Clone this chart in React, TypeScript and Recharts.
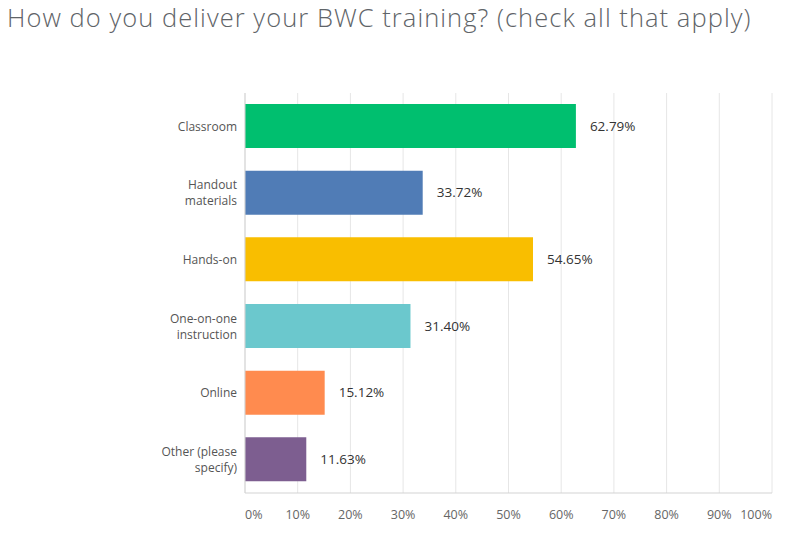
import { BarChart, Bar, XAxis, YAxis, CartesianGrid, Cell, LabelList } from "recharts";

const categories = [
  "Classroom",
  "Handout\nmaterials",
  "Hands-on",
  "One-on-one\ninstruction",
  "Online",
  "Other (please\nspecify)",
];
const shares = [62.79, 33.72, 54.65, 31.4, 15.12, 11.63];
const barColors = ["#00BF6F", "#507CB6", "#F9BE00", "#6BC8CD", "#FF8B4F", "#7D5E90"];
const percentTicks = [0, 10, 20, 30, 40, 50, 60, 70, 80, 90, 100];

const data = categories.map((name, i) => ({ name, value: shares[i] }));

const FONT = "'Open Sans', sans-serif";

// multi-line category names, right aligned against the axis
const CategoryTick = (props: any) => {
  const { x, y, payload } = props;
  const lines: string[] = String(payload.value).split("\n");
  const lh = 16;
  const startY = y - ((lines.length - 1) * lh) / 2;
  return (
    <g>
      {lines.map((l, i) => (
        <text
          key={i}
          x={x + 4}
          y={startY + i * lh}
          dy="0.35em"
          textAnchor="end"
          fontFamily={FONT}
          fontSize={12}
          fill="#555"
        >
          {l}
        </text>
      ))}
    </g>
  );
};

// first and last labels are kept inside the plot edges
const PercentTick = (props: any) => {
  const { x, y, payload } = props;
  const v = payload.value;
  const anchor = v === 0 ? "start" : v === 100 ? "end" : "middle";
  return (
    <text x={x} y={y} dy="0.35em" textAnchor={anchor} fontFamily={FONT} fontSize={12.5} fill="#666">
      {`${v}%`}
    </text>
  );
};

const ValueLabel = (props: any) => {
  const { x, y, width, height, value } = props;
  return (
    <text
      x={x + width + 14}
      y={y + height / 2}
      dy="0.35em"
      fontFamily={FONT}
      fontSize={13.5}
      fill="#333"
    >
      {`${Number(value).toFixed(2)}%`}
    </text>
  );
};

export default function App() {
  return (
    <div style={{ position: "absolute", left: 0, top: 0, width: 800, height: 550, background: "#fff" }}>
      <div
        style={{
          position: "absolute",
          left: 7,
          top: 0,
          fontFamily: FONT,
          fontWeight: 300,
          fontSize: 25.5,
          letterSpacing: 1.05,
          color: "#5f6468",
          whiteSpace: "nowrap",
        }}
      >
        How do you deliver your BWC training? (check all that apply)
      </div>
      <BarChart
        width={800}
        height={550}
        data={data}
        layout="vertical"
        margin={{ top: 93, right: 28, bottom: 35, left: 0 }}
      >
        <CartesianGrid horizontal={false} stroke="#e6e6e6" />
        <XAxis
          type="number"
          domain={[0, 100]}
          ticks={percentTicks}
          interval={0}
          tick={<PercentTick />}
          tickLine={false}
          axisLine={{ stroke: "#d3d3d3" }}
          height={22}
          tickMargin={16}
        />
        <YAxis
          type="category"
          dataKey="name"
          width={245}
          tick={<CategoryTick />}
          tickLine={false}
          axisLine={{ stroke: "#d3d3d3" }}
          tickMargin={6}
        />
        <Bar dataKey="value" barSize={44} isAnimationActive={false}>
          {data.map((_, i) => (
            <Cell key={i} fill={barColors[i]} />
          ))}
          <LabelList dataKey="value" content={<ValueLabel />} />
        </Bar>
      </BarChart>
    </div>
  );
}
